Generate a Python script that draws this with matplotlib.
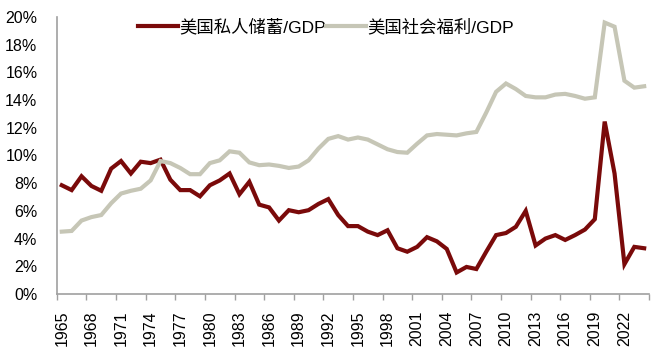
import matplotlib
matplotlib.use("Agg")
import matplotlib.pyplot as plt
from matplotlib.ticker import FixedLocator, FuncFormatter
import numpy as np

plt.rcParams['font.family'] = ['Liberation Sans', 'Noto Sans CJK SC', 'DejaVu Sans']

years = list(range(1965, 2025))
savings = [7.85, 7.5, 8.5, 7.8, 7.45, 9.05, 9.6, 8.7, 9.55, 9.45,
           9.7, 8.25, 7.5, 7.5, 7.05, 7.85, 8.2, 8.7, 7.2, 8.1,
           6.45, 6.25, 5.3, 6.05, 5.9, 6.05, 6.5, 6.85, 5.7, 4.9,
           4.9, 4.5, 4.25, 4.6, 3.3, 3.05, 3.4, 4.1, 3.8, 3.25,
           1.55, 1.95, 1.8, 3.05, 4.25, 4.4, 4.85, 6.0, 3.5, 4.0,
           4.25, 3.9, 4.25, 4.65, 5.4, 12.45, 8.7, 2.15, 3.4, 3.3]
welfare = [4.5, 4.55, 5.3, 5.55, 5.7, 6.55, 7.25, 7.45, 7.6, 8.2,
           9.6, 9.45, 9.1, 8.65, 8.65, 9.45, 9.65, 10.3, 10.2, 9.5,
           9.3, 9.35, 9.25, 9.1, 9.2, 9.65, 10.5, 11.2, 11.4, 11.15,
           11.3, 11.15, 10.8, 10.45, 10.25, 10.2, 10.85, 11.45, 11.55, 11.5,
           11.45, 11.6, 11.7, 13.1, 14.6, 15.2, 14.8, 14.3, 14.2, 14.2,
           14.4, 14.45, 14.3, 14.1, 14.2, 19.6, 19.3, 15.4, 14.9, 15.0]
labels = ['美国私人储蓄/GDP', '美国社会福利/GDP']
colors = ['#7A0A0A', '#C6C6B6']

fig = plt.figure(figsize=(6.61, 3.55), dpi=100)
ax = fig.add_axes([0.086, 0.172, 0.896, 0.78])

x = np.arange(len(years))
ax.plot(x, savings, color=colors[0], lw=3.0, label=labels[0], solid_joinstyle='miter')
ax.plot(x, welfare, color=colors[1], lw=3.0, label=labels[1], solid_joinstyle='miter')

ax.set_xlim(-0.5, len(years) - 0.5)
ax.set_ylim(0, 20)
ax.set_yticks(np.arange(0, 21, 2))
ax.yaxis.set_major_formatter(FuncFormatter(lambda v, p: f'{int(v)}%'))
ax.tick_params(axis='y', length=0, pad=14, labelsize=11.5, labelcolor='#000000')

ax.xaxis.set_major_locator(FixedLocator(np.arange(-0.5, len(years), 3)))
ax.xaxis.set_major_formatter(FuncFormatter(lambda v, p: ''))
ax.xaxis.set_minor_locator(FixedLocator(x[::3]))
ax.set_xticklabels([str(y) for y in years[::3]], minor=True, rotation=90)
ax.tick_params(axis='x', which='major', length=4, color='#A0A0A0', width=1)
ax.tick_params(axis='x', which='minor', length=0, pad=12, labelsize=11.5)

for s in ['top', 'right']:
    ax.spines[s].set_visible(False)
for s in ['left', 'bottom']:
    ax.spines[s].set_color('#A0A0A0')
    ax.spines[s].set_linewidth(1.2)

leg = ax.legend(loc='upper left', bbox_to_anchor=(0.11, 1.05), ncol=2, frameon=False,
                fontsize=12.5, handlelength=2.3, handletextpad=0.1, columnspacing=0.0)

fig.savefig('out.png', dpi=100)
